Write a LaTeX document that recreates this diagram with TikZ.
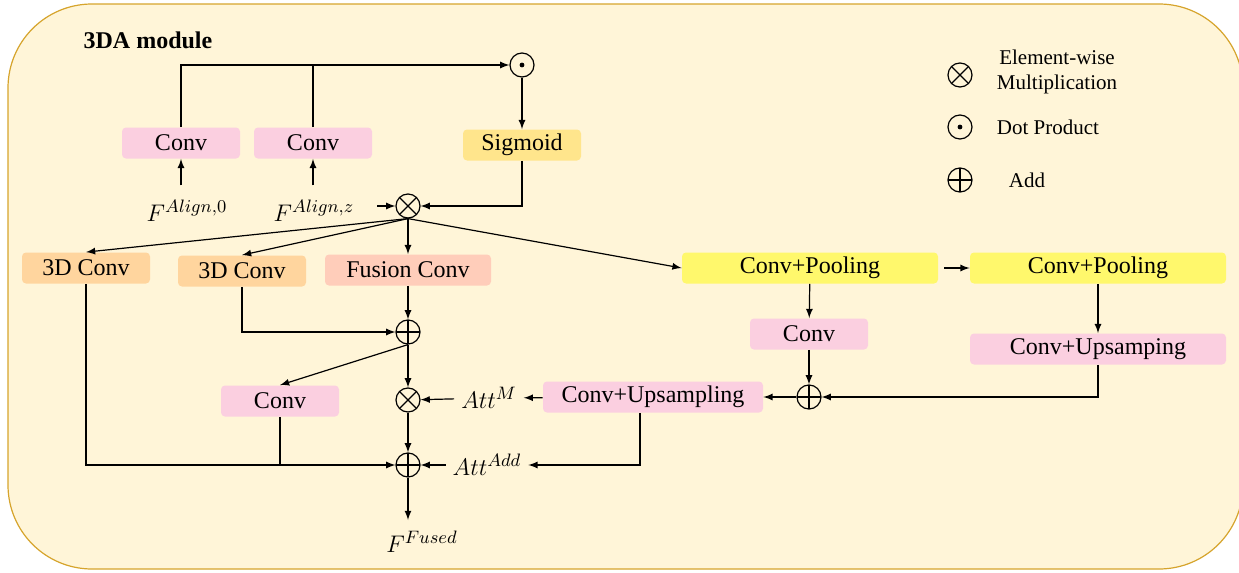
\documentclass[tikz,border=0pt]{standalone}
\usepackage{fontspec}
\setmainfont{Liberation Serif}
\usepackage{amsmath}
\definecolor{bgc}{HTML}{FFF5D8}
\definecolor{rimc}{HTML}{D6A42C}
\definecolor{pinkc}{HTML}{FBCFE0}
\definecolor{orangec}{HTML}{FFD59E}
\definecolor{salmonc}{HTML}{FFCDBA}
\definecolor{sigc}{HTML}{FFE58C}
\definecolor{poolc}{HTML}{FFF86C}
\tikzstyle{boxb}=[rounded corners=2pt,minimum height=15.5pt,inner sep=0pt,font=\fontsize{12}{14}\selectfont]
\tikzstyle{convb}=[boxb,fill=pinkc,minimum width=59pt]
\tikzstyle{tdb}=[boxb,fill=orangec,minimum width=64pt]
\tikzstyle{fusb}=[boxb,fill=salmonc,minimum width=83pt]
\tikzstyle{sigb}=[boxb,fill=sigc,minimum width=59pt]
\tikzstyle{poolb}=[boxb,fill=poolc,minimum width=128pt]
\tikzstyle{upb}=[boxb,fill=pinkc,minimum width=110pt]
\tikzstyle{opb}=[circle,draw,line width=0.6pt,minimum size=12pt,inner sep=0pt]
\tikzstyle{mulb}=[opb,path picture={\draw (path picture bounding box.north west) -- (path picture bounding box.south east) (path picture bounding box.north east) -- (path picture bounding box.south west);}]
\tikzstyle{addb}=[opb,path picture={\draw (path picture bounding box.north) -- (path picture bounding box.south) (path picture bounding box.west) -- (path picture bounding box.east);}]
\tikzstyle{dotb}=[opb,path picture={\fill (path picture bounding box.center) circle (1.2pt);}]
\tikzstyle{arr}=[->,>=latex,line width=0.6pt]
\begin{document}
\begin{tikzpicture}[x=0.5pt,y=-0.5pt]
    \useasboundingbox (0,0) rectangle (1239,573);
    \draw[fill=bgc,draw=rimc,line width=0.6pt,rounded corners=42pt] (8,4) rectangle (1243,569);
    \node[font=\fontsize{12}{14}\selectfont\bfseries] (title) at (148,40) {3DA module};

    % top branch
    \node[convb] (c1) at (181,143) {Conv};
    \node[convb] (c2) at (313,143) {Conv};
    \node[sigb] (sig) at (522,145) {Sigmoid};
    \node[dotb] (dot) at (522,65) {};
    \node[mulb] (mul1) at (408,206) {};
    \node[font=\fontsize{13}{15}\selectfont] (fa0) at (187,211) {$F^{Align,0}$};
    \node[font=\fontsize{13}{15}\selectfont] (faz) at (314,211) {$F^{Align,z}$};

    % middle row
    \node[tdb] (d1) at (86,268) {3D Conv};
    \node[tdb] (d2) at (242,271) {3D Conv};
    \node[fusb] (fus) at (408,270) {Fusion Conv};
    \node[poolb] (p1) at (810,268) {Conv+Pooling};
    \node[poolb] (p2) at (1098,268) {Conv+Pooling};

    % lower part
    \node[addb] (add1) at (408,332) {};
    \node[convb] (c3) at (280,401) {Conv};
    \node[mulb] (mul2) at (408,400) {};
    \node[font=\fontsize{13}{15}\selectfont] (attm) at (489,398) {$Att^{M}$};
    \node[upb] (cu1) at (653,397) {Conv+Upsampling};
    \node[convb] (c4) at (809,334) {Conv};
    \node[addb] (add3) at (809,397) {};
    \node[upb,minimum width=128pt] (cu2) at (1098,349) {Conv+Upsamping};
    \node[addb] (add2) at (408,465) {};
    \node[font=\fontsize{13}{15}\selectfont] (atta) at (487,465) {$Att^{Add}$};
    \coordinate (out) at (408,520);
    \node[font=\fontsize{13}{15}\selectfont] (ff) at (422,542) {$F^{Fused}$};

    % legend
    \node[mulb] (lmul) at (960,75) {};
    \node[dotb] (ldot) at (960,127) {};
    \node[addb] (ladd) at (960,180) {};
    \node[font=\fontsize{10.5}{12.5}\selectfont,align=center] (tmul) at (1057,72) {Element-wise\\Multiplication};
    \node[font=\fontsize{10.5}{12.5}\selectfont] (tdot) at (1048,127) {Dot Product};
    \node[font=\fontsize{10.5}{12.5}\selectfont] (tadd) at (1027,180) {Add};

    \draw[arr] (c1.north) |- (dot.west);
    \draw[line width=0.6pt] (c2.north) -- (c2.north |- dot.west);
    \draw[arr,shorten <=4pt] (fa0.north -| c1) -- (c1.south);
    \draw[arr,shorten <=4pt] (faz.north -| c2) -- (c2.south);
    \draw[arr,shorten <=8pt] (faz.east |- mul1) -- (mul1.west);
    \draw[arr] (sig.south) |- (mul1.east);
    \draw[arr] (d2.south) |- (add1.west);
    \draw[arr] (d1.south) |- (add2.west);
    \draw[line width=0.6pt] (c3.south) -- (c3.south |- add2);
    \draw[arr] ([xshift=-6.5pt]cu1.south) |- (atta.east);
    \draw[arr] (cu2.south) |- (add3.east);
    \draw[arr,shorten <=3pt] (p1.east) -- (p2.west);

    \foreach \from/\to in {dot/sig,mul1.south/d1.north,mul1.south/d2.north,mul1/fus,mul1.south/p1.west,fus/add1,add1.south/c3.north,add1/mul2,mul2/add2,attm/mul2,cu1/attm,atta/add2,add2/out,p1/c4,c4/add3,add3/cu1,p2/cu2}
    \draw[arr] (\from) -- (\to);
\end{tikzpicture}
\end{document}
